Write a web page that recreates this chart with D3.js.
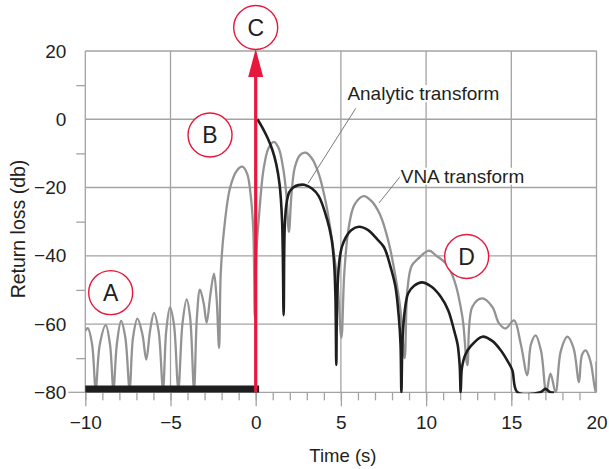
<!DOCTYPE html>
<html><head><meta charset="utf-8">
<script src="https://cdn.jsdelivr.net/npm/d3@7"></script>
<style>body{margin:0;background:#fff}svg{display:block}</style>
</head><body>
<svg id="c" width="609" height="469"></svg>
<script>
// ---- data ----
const xTickValues = [-10, -5, 0, 5, 10, 15, 20];
const yTickValues = [20, 0, -20, -40, -60, -80];
const yMinorValues = [10, -10, -30, -50, -70];

// VNA transform (grey) [time s, dB]
const vnaTime = [-10, -9.85, -9.6, -9.39, -9.15, -8.8, -8.55, -8.35, -8.15, -7.9, -7.65, -7.4, -7.2, -6.94, -6.65, -6.42, -6.2, -5.97, -5.7, -5.44, -5.25, -5.03, -4.8, -4.54, -4.3, -4.05, -3.85, -3.62, -3.45, -3.27, -3.05, -2.88, -2.65, -2.45, -2.3, -2.15, -2.05, -1.86, -1.5, -1.1, -0.78, -0.5, -0.3, -0.14, -0.05, 0.05, 0.2, 0.45, 0.75, 1.07, 1.35, 1.6, 1.8, 1.95, 2.1, 2.3, 2.6, 2.93, 3.3, 3.7, 4.1, 4.5, 4.8, 5.03, 5.2, 5.45, 5.8, 6.34, 6.8, 7.3, 7.8, 8.2, 8.5, 8.74, 8.9, 9.15, 9.5, 10.17, 10.6, 11.15, 11.64, 12.13, 12.42, 12.71, 13.3, 13.89, 14.28, 14.67, 15.16, 15.55, 15.94, 16.15, 16.43, 16.75, 17.05, 17.3, 17.6, 17.9, 18.29, 18.65, 18.97, 19.15, 19.37, 19.65, 19.95, 20];
const vnaDb = [-62, -61.2, -66, -79, -66, -60.3, -66, -79, -66, -59.1, -64, -79, -64, -58.4, -63, -70.4, -62, -56.7, -62, -79, -62, -55.1, -60, -79, -60, -52.8, -58, -79, -58, -49.9, -54, -59.6, -51, -45.2, -52, -67, -45, -32.5, -20, -15, -13.9, -16, -22, -32.5, -58, -38, -28, -15, -8.5, -6.6, -8.5, -14, -22, -33, -22, -14, -10.5, -9.8, -11.5, -16, -24, -36, -48, -64, -45, -32, -25, -22.5, -24, -28, -36, -46, -56, -70, -50, -43, -41, -38.5, -40, -42.2, -47, -57.9, -72, -55, -52.5, -55, -59.8, -61.3, -58.9, -65.7, -75, -66, -63.3, -68, -80, -74.5, -80, -68, -63.7, -67, -77, -69, -67.7, -71, -80, -71];

// Analytic transform (black)
const anaTime = [0.1, 0.4, 0.7, 0.98, 1.2, 1.4, 1.55, 1.64, 1.7, 1.8, 1.96, 2.2, 2.5, 2.85, 3.3, 3.7, 4.2, 4.45, 4.6, 4.68, 4.73, 4.78, 4.9, 5.05, 5.3, 5.6, 6.06, 6.6, 7.1, 7.53, 7.9, 8.2, 8.4, 8.5, 8.55, 8.62, 8.75, 8.95, 9.3, 9.75, 10.3, 10.86, 11.3, 11.64, 11.85, 11.97, 12.03, 12.1, 12.3, 12.62, 13.3, 13.9, 14.38, 14.8, 15.06, 15.36, 16.7, 17.0, 17.3, 17.5];
const anaDb = [0, -2.5, -5.5, -9, -13, -19, -30, -57.4, -32, -25, -21.5, -20, -19.3, -19.2, -20.3, -22.5, -29.5, -35, -42, -52, -72, -52, -42, -37.5, -34.5, -32.5, -31.5, -32.5, -35, -37.5, -43, -49, -58, -66, -80, -64, -56, -51, -48.8, -47.8, -49, -52, -56, -61.8, -66, -72, -80, -73, -69, -66.5, -63.7, -65, -67.7, -71, -73.5, -80, -80, -79, -80, -80];

// analytic floor segment (clipped at the bottom)
const floorTime = [-10, 0.2];
const floorDb = [-79, -79];

// annotations
const callouts = [
  {letter: "C", t: 0, db: 26.9},
  {letter: "B", t: -2.68, db: -4.6},
  {letter: "A", t: -8.51, db: -50.8},
  {letter: "D", t: 12.38, db: -40.2}
];
const labels = [
  {text: "Analytic transform", t: 5.38, db: 5.6, lt1: 5.87, ldb1: 3.2, lt2: 3.07, ldb2: -18.8},
  {text: "VNA transform", t: 8.51, db: -18.6, lt1: 8.51, ldb1: -16.6, lt2: 7.24, ldb2: -24.5}
];

// ---- drawing ----
const svg = d3.select("#c");
const FONT = "'Liberation Sans', Arial, sans-serif";
const TXT = "#231f20";
const GRID = "#a3a3a3";
const RED = "#e8173c";

const x = d3.scaleLinear().domain([-10, 20]).range([85.3, 596.5]);
const y = d3.scaleLinear().domain([-80, 20]).range([392.3, 51]);

svg.append("defs").append("clipPath").attr("id", "plot").append("rect")
  .attr("x", x(-10)).attr("y", y(20)).attr("width", x(20) - x(-10)).attr("height", y(-80) - y(20) + 1);

// horizontal gridlines (incl. top frame and bottom axis)
svg.append("g").selectAll("line").data(yTickValues).join("line")
  .attr("x1", x(-10)).attr("x2", x(20))
  .attr("y1", d => y(d)).attr("y2", d => y(d))
  .attr("stroke", GRID).attr("stroke-width", 1.3);
// vertical gridlines (incl. frame)
svg.append("g").selectAll("line").data(xTickValues).join("line")
  .attr("x1", d => x(d)).attr("x2", d => x(d))
  .attr("y1", y(20)).attr("y2", y(-80))
  .attr("stroke", GRID).attr("stroke-width", 1.3);

// bottom axis: minor ticks
const xMinorAxis = d3.axisBottom(x).tickValues(d3.range(-10, 20, 1)).tickSize(8).tickFormat("");
const gxm = svg.append("g").attr("transform", `translate(0,${y(-80)})`).call(xMinorAxis);
gxm.select(".domain").remove();
gxm.selectAll("line").attr("stroke", GRID).attr("stroke-width", 1.3);

// bottom axis: major ticks + labels
const xAxis = d3.axisBottom(x).tickValues(xTickValues).tickSize(14).tickPadding(9.5);
const gx = svg.append("g").attr("transform", `translate(0,${y(-80)})`).call(xAxis);
gx.select(".domain").remove();
gx.selectAll("line").attr("stroke", GRID).attr("stroke-width", 1.3);
gx.selectAll(".tick").filter(d => d === 20).select("line").remove();
gx.selectAll("text").attr("font-family", FONT).attr("font-size", 19).attr("fill", TXT);

// left axis: minor ticks
const yMinorAxis = d3.axisLeft(y).tickValues(yMinorValues).tickSize(9).tickFormat("");
const gym = svg.append("g").attr("transform", `translate(${x(-10)},0)`).call(yMinorAxis);
gym.select(".domain").remove();
gym.selectAll("line").attr("stroke", GRID).attr("stroke-width", 1.3);

// left axis labels
const yAxis = d3.axisLeft(y).tickValues(yTickValues).tickSize(0).tickPadding(19);
const gy = svg.append("g").attr("transform", `translate(${x(-10)},0)`).call(yAxis);
gy.select(".domain").remove();
gy.selectAll("text").attr("font-family", FONT).attr("font-size", 19).attr("fill", TXT);
// -80 extended tick
svg.append("line").attr("x1", x(-10) - 17).attr("x2", x(-10))
  .attr("y1", y(-80)).attr("y2", y(-80)).attr("stroke", GRID).attr("stroke-width", 1.3);

// axis titles
svg.append("text").attr("x", (x(-10) + x(20)) / 2 + 2).attr("y", 462)
  .attr("text-anchor", "middle").attr("font-family", FONT).attr("font-size", 18.5)
  .attr("fill", TXT).text("Time (s)");
svg.append("text").attr("transform", "translate(25,229) rotate(-90)")
  .attr("text-anchor", "middle").attr("font-family", FONT).attr("font-size", 19.5)
  .attr("fill", TXT).text("Return loss (db)");

// curves
const line = d3.line().x(d => x(d[0])).y(d => y(d[1])).curve(d3.curveCatmullRom.alpha(0.5));
const vna = vnaTime.map((t, i) => [t, vnaDb[i]]);
const ana = anaTime.map((t, i) => [t, anaDb[i]]);
const flo = floorTime.map((t, i) => [t, floorDb[i]]);

const cg0 = svg.append("g").attr("clip-path", "url(#plot)");
cg0.append("path").datum(vna).attr("d", line)
  .attr("fill", "none").attr("stroke", "#939393").attr("stroke-width", 2.3)
  .attr("stroke-linejoin", "round");
cg0.append("path").datum(ana).attr("d", line)
  .attr("fill", "none").attr("stroke", "#1e1e1e").attr("stroke-width", 2.6)
  .attr("stroke-linejoin", "round");
svg.append("path").datum(flo).attr("d", d3.line().x(d => x(d[0])).y(d => y(d[1])))
  .attr("fill", "none").attr("stroke", "#1e1e1e").attr("stroke-width", 7);

// red impulse arrow
const ax = x(0);
const tipY = y(20) - 2;
svg.append("line").attr("x1", ax).attr("x2", ax).attr("y1", y(-80)).attr("y2", tipY + 20)
  .attr("stroke", RED).attr("stroke-width", 3.2);
svg.append("path")
  .attr("d", `M${ax},${tipY} L${ax - 7.5},${tipY + 28} L${ax + 7.5},${tipY + 28} Z`)
  .attr("fill", RED);

// leader lines + labels
labels.forEach(l => {
  svg.append("line").attr("x1", x(l.lt1)).attr("y1", y(l.ldb1))
    .attr("x2", x(l.lt2)).attr("y2", y(l.ldb2))
    .attr("stroke", "#7a7a7a").attr("stroke-width", 1);
  const g = svg.append("g");
  const rect = g.append("rect").attr("fill", "#fff");
  const t = g.append("text").attr("x", x(l.t)).attr("y", y(l.db))
    .attr("font-family", FONT).attr("font-size", 19).attr("fill", TXT).text(l.text);
  const bb = t.node().getBBox();
  rect.attr("x", bb.x - 1).attr("y", bb.y + 2).attr("width", bb.width + 2).attr("height", bb.height - 4);
});

// callout circles
const cg = svg.append("g").selectAll("g").data(callouts).join("g")
  .attr("transform", d => `translate(${x(d.t)},${y(d.db)})`);
cg.append("circle").attr("r", 22).attr("fill", "#fff")
  .attr("stroke", RED).attr("stroke-width", 1.4);
cg.append("text").attr("text-anchor", "middle").attr("dy", "0.36em")
  .attr("font-family", FONT).attr("font-size", 23).attr("fill", TXT)
  .text(d => d.letter);
</script>
</body></html>
